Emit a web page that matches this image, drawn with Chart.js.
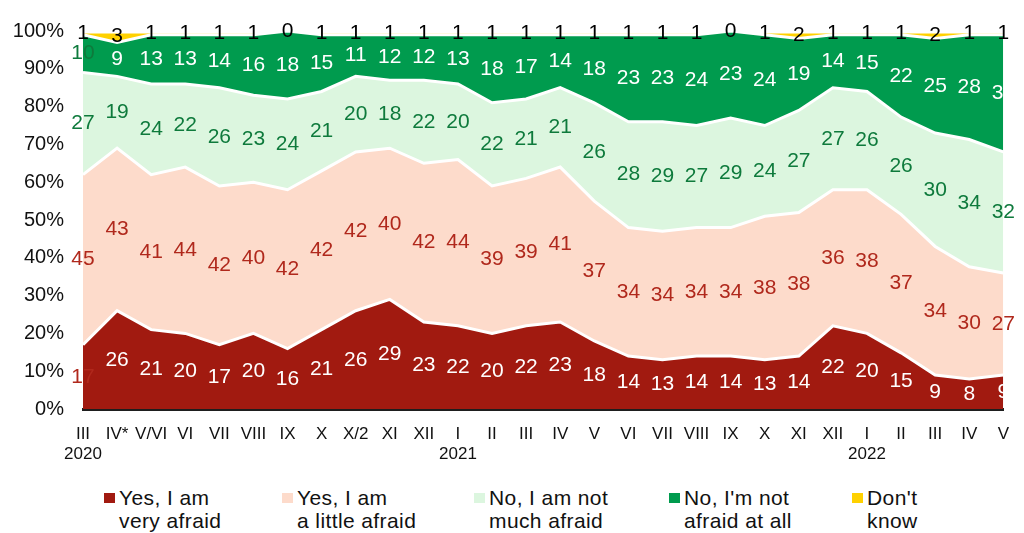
<!DOCTYPE html>
<html>
<head>
<meta charset="utf-8">
<script src="https://cdn.jsdelivr.net/npm/chart.js@4.4.1/dist/chart.umd.min.js"></script>
<style>
  body { margin: 0; background: #fff; font-family: "Liberation Sans", Arial, sans-serif; }
  #wrap { position: relative; width: 1024px; height: 533px; }
  #chartBox { position: absolute; left: 0; top: 0; width: 1024px; height: 480px; }
  .leg { position: absolute; top: 486px; font-size: 21px; letter-spacing: 0.4px; line-height: 23px; color: #111; }
  .leg i { position: absolute; left: -15px; top: 7px; width: 11px; height: 10px; }
</style>
</head>
<body>
<div id="wrap">
  <div id="chartBox"><canvas id="fearChart"></canvas></div>
  <div class="leg" style="left:119px"><i style="background:#a11a10"></i>Yes, I am<br>very afraid</div>
  <div class="leg" style="left:297px"><i style="background:#fddbcb"></i>Yes, I am<br>a little afraid</div>
  <div class="leg" style="left:489px"><i style="background:#dcf6df"></i>No, I am not<br>much afraid</div>
  <div class="leg" style="left:684px"><i style="background:#009b4e"></i>No, I'm not<br>afraid at all</div>
  <div class="leg" style="left:867px"><i style="background:#ffd100"></i>Don't<br>know</div>
</div>
<script>
// survey waves (month, year shown under first wave of the year)
const months = ['III', 'IV*', 'V/VI', 'VI', 'VII', 'VIII', 'IX', 'X', 'X/2', 'XI', 'XII',
    'I', 'II', 'III', 'IV', 'V', 'VI', 'VII', 'VIII', 'IX', 'X', 'XI', 'XII',
    'I', 'II', 'III', 'IV', 'V'];
const years = ['2020', '', '', '', '', '', '', '', '', '', '',
    '2021', '', '', '', '', '', '', '', '', '', '', '',
    '2022', '', '', '', ''];

const veryAfraid = [17, 26, 21, 20, 17, 20, 16, 21, 26, 29, 23, 22, 20, 22, 23, 18, 14, 13, 14, 14, 13, 14, 22, 20, 15, 9, 8, 9];
const littleAfraid = [45, 43, 41, 44, 42, 40, 42, 42, 42, 40, 42, 44, 39, 39, 41, 37, 34, 34, 34, 34, 38, 38, 36, 38, 37, 34, 30, 27];
const notMuchAfraid = [27, 19, 24, 22, 26, 23, 24, 21, 20, 18, 22, 20, 22, 21, 21, 26, 28, 29, 27, 29, 24, 27, 27, 26, 26, 30, 34, 32];
const notAtAll = [10, 9, 13, 13, 14, 16, 18, 15, 11, 12, 12, 13, 18, 17, 14, 18, 23, 23, 24, 23, 24, 19, 14, 15, 22, 25, 28, 31];
const dontKnow = [1, 3, 1, 1, 1, 1, 0, 1, 1, 1, 1, 1, 1, 1, 1, 1, 1, 1, 1, 0, 1, 2, 1, 1, 1, 2, 1, 1];

const yTicks = [0, 10, 20, 30, 40, 50, 60, 70, 80, 90, 100];

const RED_TXT = '#b0281c';
const GREEN_TXT = '#0e7a3c';
const FONT = '"Liberation Sans", Arial, sans-serif';

const allSeries = [veryAfraid, littleAfraid, notMuchAfraid, notAtAll, dontKnow];
// 100% stacked: rounded answers do not always add up to exactly 100
const totals = months.map((m, j) => allSeries.reduce((s, arr) => s + arr[j], 0));
const share = arr => arr.map((v, j) => v / totals[j] * 100);

// colour of the value labels, per series (first point is special in the source)
const labelColors = [
    j => j === 0 ? RED_TXT : '#ffffff',
    j => RED_TXT,
    j => GREEN_TXT,
    j => j === 0 ? GREEN_TXT : '#ffffff',
    j => '#000000'
];

function makeSet(label, data, color, first, bw) {
    return {
        label: label,
        data: share(data),
        raw: data,
        backgroundColor: color,
        borderColor: '#ffffff',
        borderWidth: bw || 3,
        pointRadius: 0,
        tension: 0,
        fill: first ? 'origin' : '-1'
    };
}

// write each value in the middle of its band
const bandLabels = {
    id: 'bandLabels',
    afterDatasetsDraw(chart) {
        const c = chart.ctx;
        const yScale = chart.scales.y;
        const base = months.map(() => 0);
        c.save();
        c.font = '21px ' + FONT;
        c.textAlign = 'center';
        c.textBaseline = 'middle';
        chart.data.datasets.forEach((ds, i) => {
            const meta = chart.getDatasetMeta(i);
            ds.data.forEach((v, j) => {
                const px = meta.data[j].x;
                const py = yScale.getPixelForValue(base[j] + v / 2);
                base[j] += v;
                c.fillStyle = labelColors[i](j);
                c.fillText(String(ds.raw[j]), px, py);
            });
        });
        c.restore();
    }
};

const ctx = document.getElementById('fearChart').getContext('2d');
new Chart(ctx, {
    type: 'line',
    data: {
        labels: months.map((m, i) => years[i] ? [m, years[i]] : [m]),
        datasets: [
            makeSet('Yes, I am very afraid', veryAfraid, '#a11a10', true),
            makeSet('Yes, I am a little afraid', littleAfraid, '#fddbcb'),
            makeSet('No, I am not much afraid', notMuchAfraid, '#dcf6df'),
            makeSet("No, I'm not afraid at all", notAtAll, '#009b4e'),
            makeSet("Don't know", dontKnow, '#ffd100', false, 5)
        ]
    },
    options: {
        responsive: true,
        maintainAspectRatio: false,
        animation: false,
        layout: { padding: { top: 27, right: 14, left: 0, bottom: 0 } },
        plugins: {
            legend: { display: false },
            tooltip: { enabled: false }
        },
        scales: {
            x: {
                offset: false,
                grid: { display: false, drawTicks: false },
                border: { display: true, color: '#1e1e1e', width: 3 },
                ticks: {
                    autoSkip: false,
                    maxRotation: 0,
                    minRotation: 0,
                    padding: 15,
                    color: '#111111',
                    font: { family: FONT, size: 17, lineHeight: 1.2 }
                },
                afterFit(s) { s.height = 71; }
            },
            y: {
                stacked: true,
                min: 0,
                max: 100,
                grid: { display: false, drawTicks: false },
                border: { display: false },
                afterBuildTicks(s) { s.ticks = yTicks.map(v => ({ value: v })); },
                ticks: {
                    padding: 19,
                    color: '#111111',
                    font: { family: FONT, size: 20 },
                    callback: v => v + '%'
                },
                afterFit(s) { s.width = 83; }
            }
        }
    },
    plugins: [bandLabels]
});
</script>
</body>
</html>
